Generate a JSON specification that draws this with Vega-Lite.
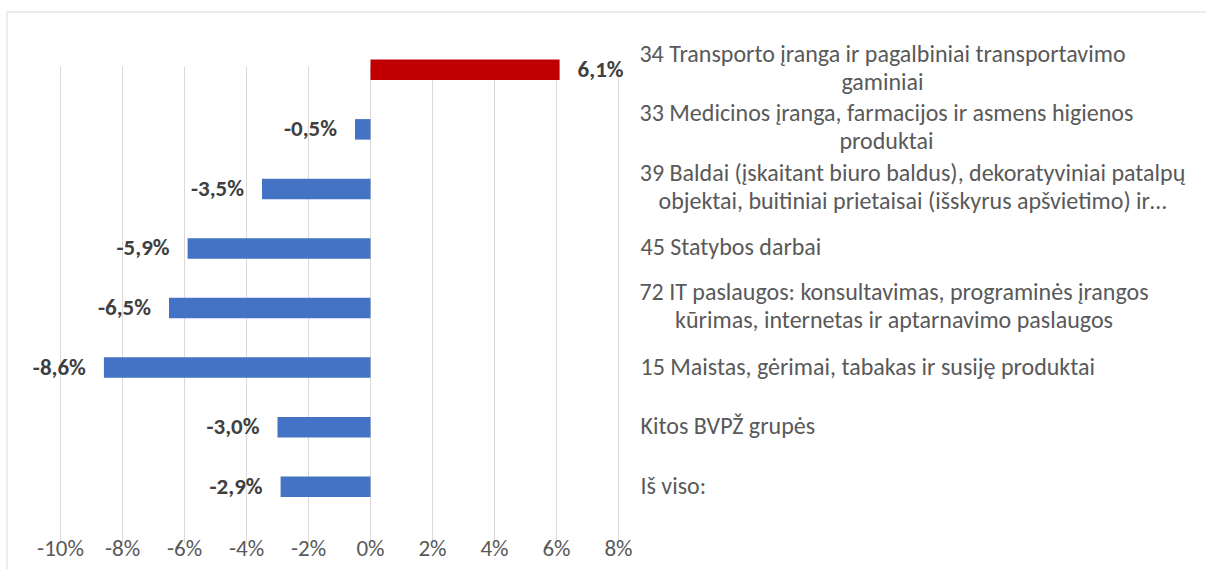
{
  "$schema": "https://vega.github.io/schema/vega-lite/v6.json",
  "width": 1202,
  "height": 560,
  "autosize": {"type": "none"},
  "padding": {"left": 6.5, "top": 11.5, "right": -2.5, "bottom": -2.5},
  "background": "white",
  "config": {
    "locale": {"number": {"decimal": ",", "thousands": " ", "grouping": [3], "currency": ["", " €"], "minus": "-", "percent": "%"}},
    "view": {"stroke": "#d9d9d9", "strokeWidth": 1},
    "font": "Carlito, Lato, sans-serif"
  },
  "data": {
    "values": [
      {"category": "34 Transporto įranga ir pagalbiniai transportavimo\ngaminiai", "change": 0.061},
      {"category": "33 Medicinos įranga, farmacijos ir asmens higienos\nproduktai", "change": -0.005},
      {"category": "39 Baldai (įskaitant biuro baldus), dekoratyviniai patalpų\nobjektai, buitiniai prietaisai (išskyrus apšvietimo) ir…", "change": -0.035},
      {"category": "45 Statybos darbai", "change": -0.059},
      {"category": "72 IT paslaugos: konsultavimas, programinės įrangos\nkūrimas, internetas ir aptarnavimo paslaugos", "change": -0.065},
      {"category": "15 Maistas, gėrimai, tabakas ir susiję produktai", "change": -0.086},
      {"category": "Kitos BVPŽ grupės", "change": -0.03},
      {"category": "Iš viso:", "change": -0.029}
    ]
  },
  "encoding": {
    "y": {
      "field": "category",
      "type": "nominal",
      "sort": null,
      "scale": {"range": [28.5, 505], "paddingInner": 0.656, "paddingOuter": 0.328},
      "axis": {
        "orient": "right",
        "offset": -568.5,
        "title": null,
        "ticks": false,
        "domain": false,
        "grid": false,
        "labelFontSize": 24,
        "labelColor": "#595959",
        "labelLimit": 0,
        "labelOverlap": false,
        "labelBaseline": "middle",
        "labelLineHeight": 28,
        "labelExpr": "split(datum.label, '\\n')",
        "labelAlign": {"condition": {"test": "indexof(datum.value, '\\n') >= 0", "value": "center"}, "value": "left"},
        "labelOffset": {"condition": {"test": "indexof(datum.value, '\\n') >= 0", "value": -15}, "value": 0},
        "labelPadding": {
          "condition": [
            {"test": "slice(datum.value,0,2) === '34'", "value": 242},
            {"test": "slice(datum.value,0,2) === '33'", "value": 246},
            {"test": "slice(datum.value,0,2) === '39'", "value": 272},
            {"test": "slice(datum.value,0,2) === '72'", "value": 253.5}
          ],
          "value": 0
        }
      }
    },
    "x": {
      "field": "change",
      "type": "quantitative",
      "scale": {"domain": [-0.1, 0.08], "range": [54, 612], "nice": false, "zero": false},
      "axis": {
        "orient": "bottom",
        "offset": -22.5,
        "title": null,
        "format": ".0%",
        "values": [-0.1, -0.08, -0.06, -0.04, -0.02, 0, 0.02, 0.04, 0.06, 0.08],
        "ticks": false,
        "domain": false,
        "grid": true,
        "gridColor": "#d9d9d9",
        "gridWidth": 1,
        "translate": 0,
        "labelPadding": 0,
        "labelBaseline": "middle",
        "labelFontSize": 23,
        "labelColor": "#595959",
        "labelFlush": false,
        "labelOverlap": false
      }
    }
  },
  "layer": [
    {
      "mark": {"type": "bar"},
      "encoding": {
        "color": {"condition": {"test": "datum.change > 0", "value": "#C00000"}, "value": "#4472C4"}
      }
    },
    {
      "transform": [{"filter": "datum.change < 0"}],
      "mark": {"type": "text", "align": "right", "baseline": "middle", "dx": -18, "fontWeight": "bold", "fontSize": 23, "color": "#404040"},
      "encoding": {"text": {"field": "change", "type": "quantitative", "format": ".1%"}}
    },
    {
      "transform": [{"filter": "datum.change > 0"}],
      "mark": {"type": "text", "align": "left", "baseline": "middle", "dx": 18, "fontWeight": "bold", "fontSize": 23, "color": "#404040"},
      "encoding": {"text": {"field": "change", "type": "quantitative", "format": ".1%"}}
    }
  ]
}
